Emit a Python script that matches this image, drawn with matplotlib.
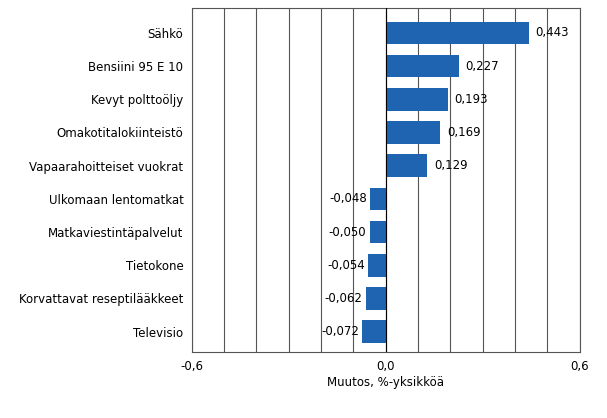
import matplotlib
matplotlib.use('Agg')
import matplotlib.pyplot as plt
import numpy as np

categories = ["Sähkö", "Bensiini 95 E 10", "Kevyt polttoöljy", "Omakotitalokiinteistö",
              "Vapaarahoitteiset vuokrat", "Ulkomaan lentomatkat", "Matkaviestintäpalvelut",
              "Tietokone", "Korvattavat reseptilääkkeet", "Televisio"]
values = [0.443, 0.227, 0.193, 0.169, 0.129, -0.048, -0.050, -0.054, -0.062, -0.072]
xticks = [-0.6, 0.0, 0.6]
xtick_labels = ["-0,6", "0,0", "0,6"]

C_BAR = '#1F64B0'

fig = plt.figure(figsize=(6.07, 4.18), dpi=100)
ax = fig.add_axes([0.316, 0.158, 0.639, 0.823])

y = np.arange(len(categories))
ax.barh(y, values, height=0.68, color=C_BAR, zorder=3)
for yi, v in zip(y, values):
    lbl = f"{v:.3f}".replace('.', ',')
    if v >= 0:
        ax.text(v + 0.02, yi, lbl, ha='left', va='center', fontsize=8.5)
    else:
        ax.text(v - 0.01, yi, lbl, ha='right', va='center', fontsize=8.5)

ax.set_xlim(-0.6, 0.6)
ax.set_ylim(9.61, -0.75)
ax.set_yticks(y)
ax.set_yticklabels(categories, fontsize=8.5)
ax.set_xticks(xticks)
ax.set_xticklabels(xtick_labels, fontsize=8.5)
ax.set_xticks(np.arange(-0.6, 0.61, 0.1), minor=True)
ax.grid(axis='x', which='both', color='#555555', lw=0.8, zorder=0)
ax.tick_params(axis='y', length=0, pad=6)
ax.tick_params(axis='x', which='both', length=0, pad=6)
ax.axvline(0, color='black', lw=0.8, zorder=4)
for s in ax.spines.values():
    s.set_color('#555555')
    s.set_linewidth(0.8)
ax.set_xlabel("Muutos, %-yksikköä", fontsize=8.5, labelpad=2)

fig.savefig("out.png", dpi=100)
